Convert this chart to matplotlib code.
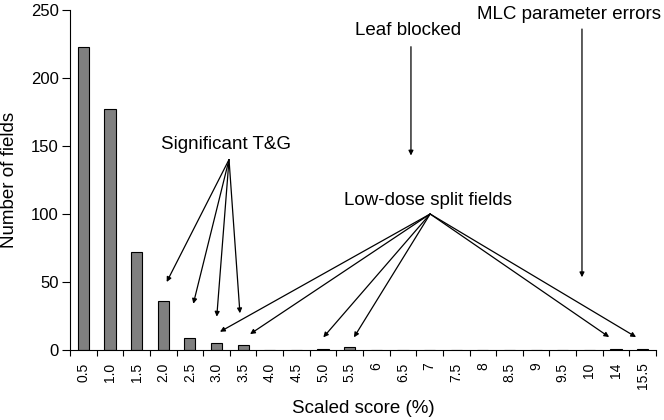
import numpy as np
import matplotlib
matplotlib.use("Agg")
import matplotlib.pyplot as plt

plt.rcParams['font.family'] = ['Liberation Sans', 'DejaVu Sans']

# --- data ---
scores = ["0.5", "1.0", "1.5", "2.0", "2.5", "3.0", "3.5", "4.0", "4.5", "5.0",
          "5.5", "6", "6.5", "7", "7.5", "8", "8.5", "9", "9.5", "10", "14", "15.5"]
counts = [223, 177, 72, 36, 9, 5, 4, 0, 0, 1,
          2, 0, 0, 0, 0, 0, 0, 0, 0, 0, 1, 1]

# annotation arrows: origin (x, y) and tips, in data units (category index, count)
tg_origin = (5.47, 140)
tg_tips = [(3.13, 50), (4.13, 34), (5.01, 24.5), (5.88, 27)]
lds_origin = (13.02, 100)
lds_tips = [(5.13, 13.4), (6.26, 11.7), (9.01, 9.3), (10.16, 9.3), (19.74, 9.5), (20.75, 9.5)]
leaf_arrow = [(12.30, 223), (12.30, 143)]
mlc_arrow = [(18.72, 236), (18.72, 53.5)]

fig = plt.figure(figsize=(6.64, 4.2), dpi=100)
ax = fig.add_axes([0.1054, 0.1667, 0.8826, 0.8095])

x = np.arange(len(scores))
ax.bar(x, counts, width=0.42, color="#808080", edgecolor="black", linewidth=0.8)

ax.set_xlim(-0.5, len(scores) - 0.5)
ax.set_ylim(0, 250)
ax.set_yticks([0, 50, 100, 150, 200, 250])

ax.set_xticks(x)
ax.set_xticklabels(scores, rotation=90, fontsize=10)
ax.set_xticks(np.arange(-0.5, len(scores)), minor=True)
ax.tick_params(axis="x", which="major", length=0, pad=9)
ax.tick_params(axis="x", which="minor", length=4, direction="out", width=0.8)
ax.tick_params(axis="y", labelsize=12, length=6, width=0.8, pad=2)

for s in ["top", "right"]:
    ax.spines[s].set_visible(False)
ax.spines["left"].set_linewidth(0.8)
ax.spines["bottom"].set_linewidth(0.8)

ax.set_xlabel("Scaled score (%)", fontsize=13.5, labelpad=8)
ax.set_ylabel("Number of fields", fontsize=13.5, labelpad=9)

aprops = dict(arrowstyle="-|>", color="black", lw=0.9, mutation_scale=7,
              shrinkA=0, shrinkB=0)

for tip in tg_tips:
    ax.annotate("", xy=tip, xytext=tg_origin, arrowprops=aprops)
for tip in lds_tips:
    ax.annotate("", xy=tip, xytext=lds_origin, arrowprops=aprops)
ax.annotate("", xy=leaf_arrow[1], xytext=leaf_arrow[0], arrowprops=aprops)
ax.annotate("", xy=mlc_arrow[1], xytext=mlc_arrow[0], arrowprops=aprops)

ax.text(5.36, 151, "Significant T&G", ha="center", va="center", fontsize=13.5)
ax.text(12.94, 110, "Low-dose split fields", ha="center", va="center", fontsize=13.5)
ax.text(12.19, 235, "Leaf blocked", ha="center", va="center", fontsize=13.5)
ax.text(18.25, 247, "MLC parameter errors", ha="center", va="center", fontsize=13.5,
        clip_on=False)

fig.savefig("out.png", dpi=100)
